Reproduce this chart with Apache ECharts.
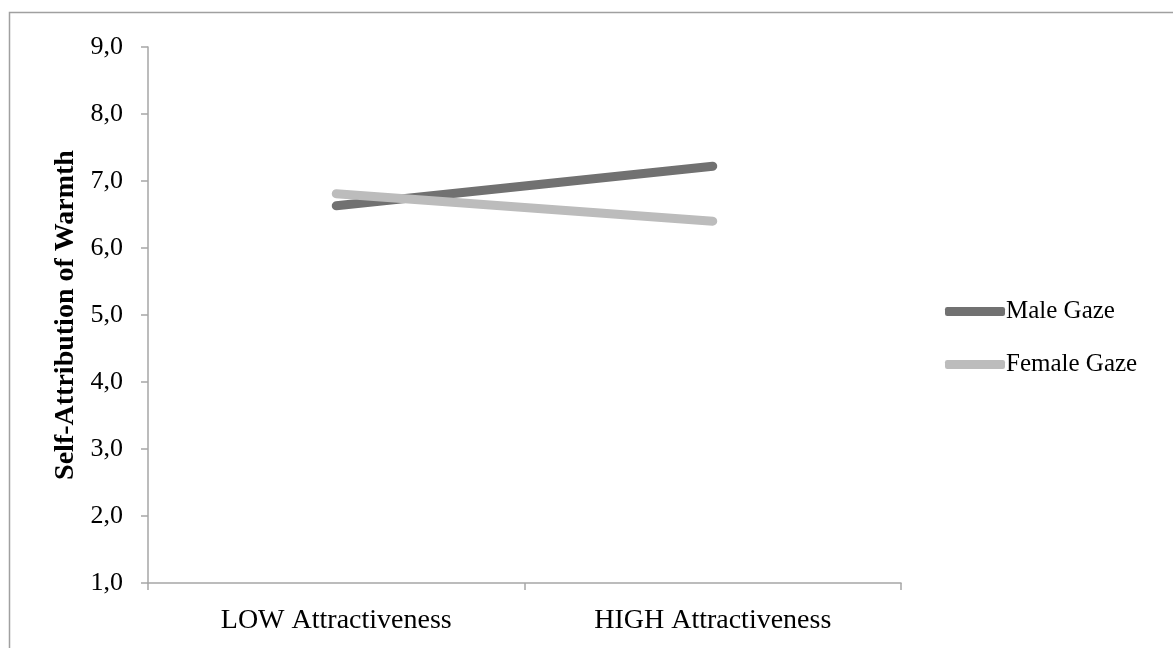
<!DOCTYPE html>
<html>
<head>
<meta charset="utf-8">
<script src="https://cdn.jsdelivr.net/npm/echarts@6/dist/echarts.min.js"></script>
<style>
  html, body { margin: 0; padding: 0; background: #fff; }
  #chart { width: 1173px; height: 648px; }
</style>
</head>
<body>
<div id="chart"></div>
<script>
// Attractiveness conditions on the x axis
const categories = ['LOW Attractiveness', 'HIGH Attractiveness'];
// Mean self-attributed warmth per gaze condition
const maleGaze = [6.63, 7.22];
const femaleGaze = [6.81, 6.40];
const seriesNames = ['Male Gaze', 'Female Gaze'];
const yTitle = 'Self-Attribution of Warmth';

const serif = '"Liberation Serif", "DejaVu Serif", serif';
const axisGray = '#a6a6a6';

const chart = echarts.init(document.getElementById('chart'), null, { renderer: 'canvas' });

chart.setOption({
  animation: false,
  backgroundColor: '#fff',
  textStyle: { fontFamily: serif },
  graphic: [{
    type: 'rect',
    shape: { x: 9.5, y: 12.5, width: 1180, height: 660 },
    style: { fill: 'none', stroke: '#a0a0a0', lineWidth: 1.5 },
    silent: true,
    z: -1
  }],
  grid: { left: 148, top: 47, right: 272, bottom: 65, containLabel: false },
  legend: {
    orient: 'vertical',
    left: 940,
    top: 294,
    itemGap: 28,
    itemWidth: 60,
    itemHeight: 9,
    icon: 'roundRect',
    textStyle: { fontFamily: serif, fontSize: 25, color: '#000', padding: [0, 0, 0, -4] },
    data: seriesNames
  },
  xAxis: {
    type: 'category',
    data: categories,
    boundaryGap: true,
    axisLine: { lineStyle: { color: axisGray, width: 1.5 } },
    axisTick: { show: true, length: 7, lineStyle: { color: axisGray, width: 1.5 } },
    axisLabel: { fontFamily: serif, fontSize: 28, color: '#000', margin: 24 },
    splitLine: { show: false }
  },
  yAxis: {
    type: 'value',
    min: 1,
    max: 9,
    interval: 1,
    name: yTitle,
    nameLocation: 'middle',
    nameGap: 66,
    nameRotate: 90,
    nameTextStyle: { fontFamily: serif, fontSize: 28, fontWeight: 'bold', color: '#000' },
    axisLine: { show: true, lineStyle: { color: axisGray, width: 1.5 } },
    axisTick: { show: true, length: 7, lineStyle: { color: axisGray, width: 1.5 } },
    axisLabel: {
      fontFamily: serif, fontSize: 26, color: '#000', margin: 25,
      formatter: v => v.toFixed(1).replace('.', ',')
    },
    splitLine: { show: false }
  },
  series: [
    {
      name: seriesNames[0],
      type: 'line',
      data: maleGaze,
      symbol: 'none',
      color: '#717171',
      lineStyle: { width: 9, color: '#717171', cap: 'round' }
    },
    {
      name: seriesNames[1],
      type: 'line',
      data: femaleGaze,
      symbol: 'none',
      color: '#bcbcbc',
      lineStyle: { width: 9, color: '#bcbcbc', cap: 'round' }
    }
  ]
});
</script>
</body>
</html>
